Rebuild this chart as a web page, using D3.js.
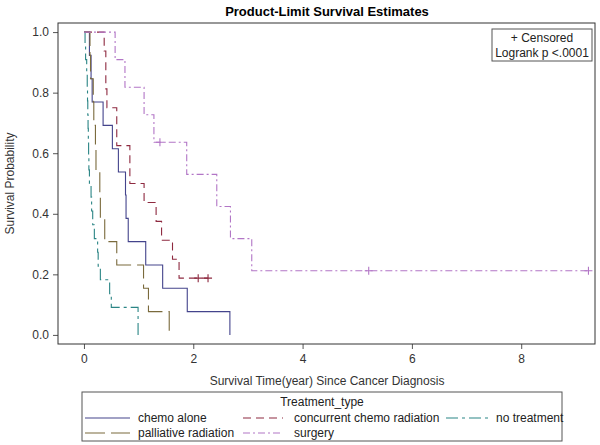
<!DOCTYPE html>
<html>
<head>
<meta charset="utf-8">
<script src="https://cdn.jsdelivr.net/npm/d3@7/dist/d3.min.js"></script>
<style>
  body { margin: 0; background: #fff; }
  svg { display: block; font-family: "Liberation Sans", Arial, sans-serif; }
</style>
</head>
<body>
<svg id="chart" width="600" height="445"></svg>
<script>
// ---- Data ----
const seriesNames = ["chemo alone", "concurrent chemo radiation", "no treatment", "palliative radiation", "surgery"];

const chemoTimes = [0, 0.10, 0.13, 0.15, 0.35, 0.52, 0.63, 0.76, 0.77, 0.81, 1.13, 1.44, 1.89, 2.67];
const chemoSurv  = [1, 0.923, 0.846, 0.769, 0.692, 0.615, 0.538, 0.462, 0.385, 0.308, 0.231, 0.154, 0.077, 0];
const chemoCensor = [];

const concTimes = [0, 0.37, 0.40, 0.42, 0.60, 0.84, 1.10, 1.32, 1.42, 1.62, 1.74, 2.27];
const concSurv  = [1, 0.9375, 0.8125, 0.75, 0.625, 0.5, 0.4375, 0.375, 0.3125, 0.25, 0.1875, 0.1875];
const concCensor = [2.09, 2.27];

const noTxTimes = [0, 0.02, 0.03, 0.05, 0.06, 0.065, 0.07, 0.075, 0.08, 0.085, 0.09, 0.10, 0.13, 0.14, 0.16, 0.19, 0.25, 0.26, 0.30, 0.47, 0.50, 0.99];
const noTxSurv  = [1, 0.955, 0.909, 0.864, 0.818, 0.773, 0.727, 0.682, 0.636, 0.591, 0.545, 0.5, 0.455, 0.409, 0.364, 0.318, 0.273, 0.227, 0.182, 0.136, 0.091, 0];
const noTxCensor = [];

const pallTimes = [0, 0.11, 0.12, 0.17, 0.18, 0.21, 0.22, 0.29, 0.30, 0.38, 0.60, 1.09, 1.18, 1.56];
const pallSurv  = [1, 0.923, 0.846, 0.769, 0.692, 0.615, 0.538, 0.462, 0.385, 0.308, 0.231, 0.154, 0.077, 0];
const pallCensor = [];

const surgTimes = [0, 0.57, 0.75, 1.10, 1.28, 1.88, 2.43, 2.68, 3.07, 9.23];
const surgSurv  = [1, 0.909, 0.818, 0.727, 0.636, 0.530, 0.424, 0.318, 0.212, 0.212];
const surgCensor = [1.39, 5.21, 9.23];

const xTicks = [0, 2, 4, 6, 8];
const yTicks = [0, 0.2, 0.4, 0.6, 0.8, 1.0];

const colors = ["#44448c", "#8e2a40", "#2b8585", "#7a6a3c", "#b276c6"];
const dashes = ["none", "8,5", "12,4,3,4", "20,6", "7,3,2,3"];

const series = [
  { name: seriesNames[0], t: chemoTimes, s: chemoSurv, c: chemoCensor },
  { name: seriesNames[1], t: concTimes, s: concSurv, c: concCensor },
  { name: seriesNames[2], t: noTxTimes, s: noTxSurv, c: noTxCensor },
  { name: seriesNames[3], t: pallTimes, s: pallSurv, c: pallCensor },
  { name: seriesNames[4], t: surgTimes, s: surgSurv, c: surgCensor }
];

(function () {
// ---- Layout ----
const svg = d3.select("#chart");
const pL = 58, pR = 595, pT = 23, pB = 344;
const x = d3.scaleLinear().domain([-0.475, 9.35]).range([pL, pR]);
const y = d3.scaleLinear().domain([-0.03, 1.03]).range([pB, pT]);

// title
svg.append("text").attr("x", 327).attr("y", 16).attr("text-anchor", "middle")
  .attr("font-size", 13).attr("font-weight", "bold").attr("fill", "#000")
  .text("Product-Limit Survival Estimates");

// axes
const xAxis = svg.append("g").attr("transform", `translate(0,${pB})`)
  .call(d3.axisBottom(x).tickValues(xTicks).tickFormat(d3.format("d")).tickSize(5).tickPadding(5));
const yAxis = svg.append("g").attr("transform", `translate(${pL},0)`)
  .call(d3.axisLeft(y).tickValues(yTicks).tickFormat(d3.format(".1f")).tickSize(5).tickPadding(4));
[xAxis, yAxis].forEach(g => {
  g.select(".domain").remove();
  g.selectAll(".tick line").attr("stroke", "#555");
  g.selectAll(".tick text").attr("fill", "#333").attr("font-size", 12)
    .attr("font-family", "'Liberation Sans', Arial, sans-serif");
});

svg.append("text").attr("x", 327).attr("y", 385).attr("text-anchor", "middle")
  .attr("font-size", 12).attr("fill", "#333")
  .text("Survival Time(year) Since Cancer Diagnosis");
svg.append("text").attr("transform", `translate(14,${(pT + pB) / 2}) rotate(-90)`)
  .attr("text-anchor", "middle").attr("font-size", 12).attr("fill", "#333")
  .text("Survival Probability");

// curves
const line = d3.line().x(d => x(d[0])).y(d => y(d[1])).curve(d3.curveStepAfter);
const plot = svg.append("g");
series.forEach((sr, i) => {
  const pts = sr.t.map((t, k) => [t, sr.s[k]]);
  plot.append("path").datum(pts).attr("d", line)
    .attr("fill", "none").attr("stroke", colors[i]).attr("stroke-width", 1.1)
    .attr("stroke-dasharray", dashes[i]);
  sr.c.forEach(ct => {
    let sv = 1;
    sr.t.forEach((t, k) => { if (t <= ct) sv = sr.s[k]; });
    const cx = x(ct), cy = y(sv);
    plot.append("path").attr("d", `M${cx - 4},${cy}H${cx + 4}M${cx},${cy - 4}V${cy + 4}`)
      .attr("stroke", colors[i]).attr("stroke-width", 1.1);
  });
});

// frame
svg.append("rect").attr("x", pL).attr("y", pT).attr("width", pR - pL).attr("height", pB - pT)
  .attr("fill", "none").attr("stroke", "#333").attr("stroke-width", 1);

// inset box
svg.append("rect").attr("x", 492).attr("y", 29).attr("width", 100).attr("height", 32)
  .attr("fill", "#fff").attr("stroke", "#555");
svg.append("text").attr("x", 542).attr("y", 42).attr("text-anchor", "middle").attr("font-size", 12).attr("fill", "#222").text("+ Censored");
svg.append("text").attr("x", 542).attr("y", 57).attr("text-anchor", "middle").attr("font-size", 12).attr("fill", "#222").text("Logrank p <.0001");

// legend
svg.append("rect").attr("x", 82).attr("y", 392).attr("width", 480).attr("height", 49)
  .attr("fill", "none").attr("stroke", "#555");
svg.append("text").attr("x", 322).attr("y", 406).attr("text-anchor", "middle").attr("font-size", 12).attr("fill", "#222").text("Treatment_type");
const legPos = [[85, 418], [243, 418], [446, 418], [85, 433], [243, 433]];
const legLen = [45, 40, 44, 45, 40];
const legGap = [8, 11, 6, 8, 11];
series.forEach((sr, i) => {
  const [lx, ly] = legPos[i];
  svg.append("line").attr("x1", lx).attr("x2", lx + legLen[i]).attr("y1", ly).attr("y2", ly)
    .attr("stroke", colors[i]).attr("stroke-width", 1.1).attr("stroke-dasharray", dashes[i]);
  svg.append("text").attr("x", lx + legLen[i] + legGap[i]).attr("y", ly + 4).attr("font-size", 12).attr("fill", "#222").text(sr.name);
});
})();
</script>
</body>
</html>
